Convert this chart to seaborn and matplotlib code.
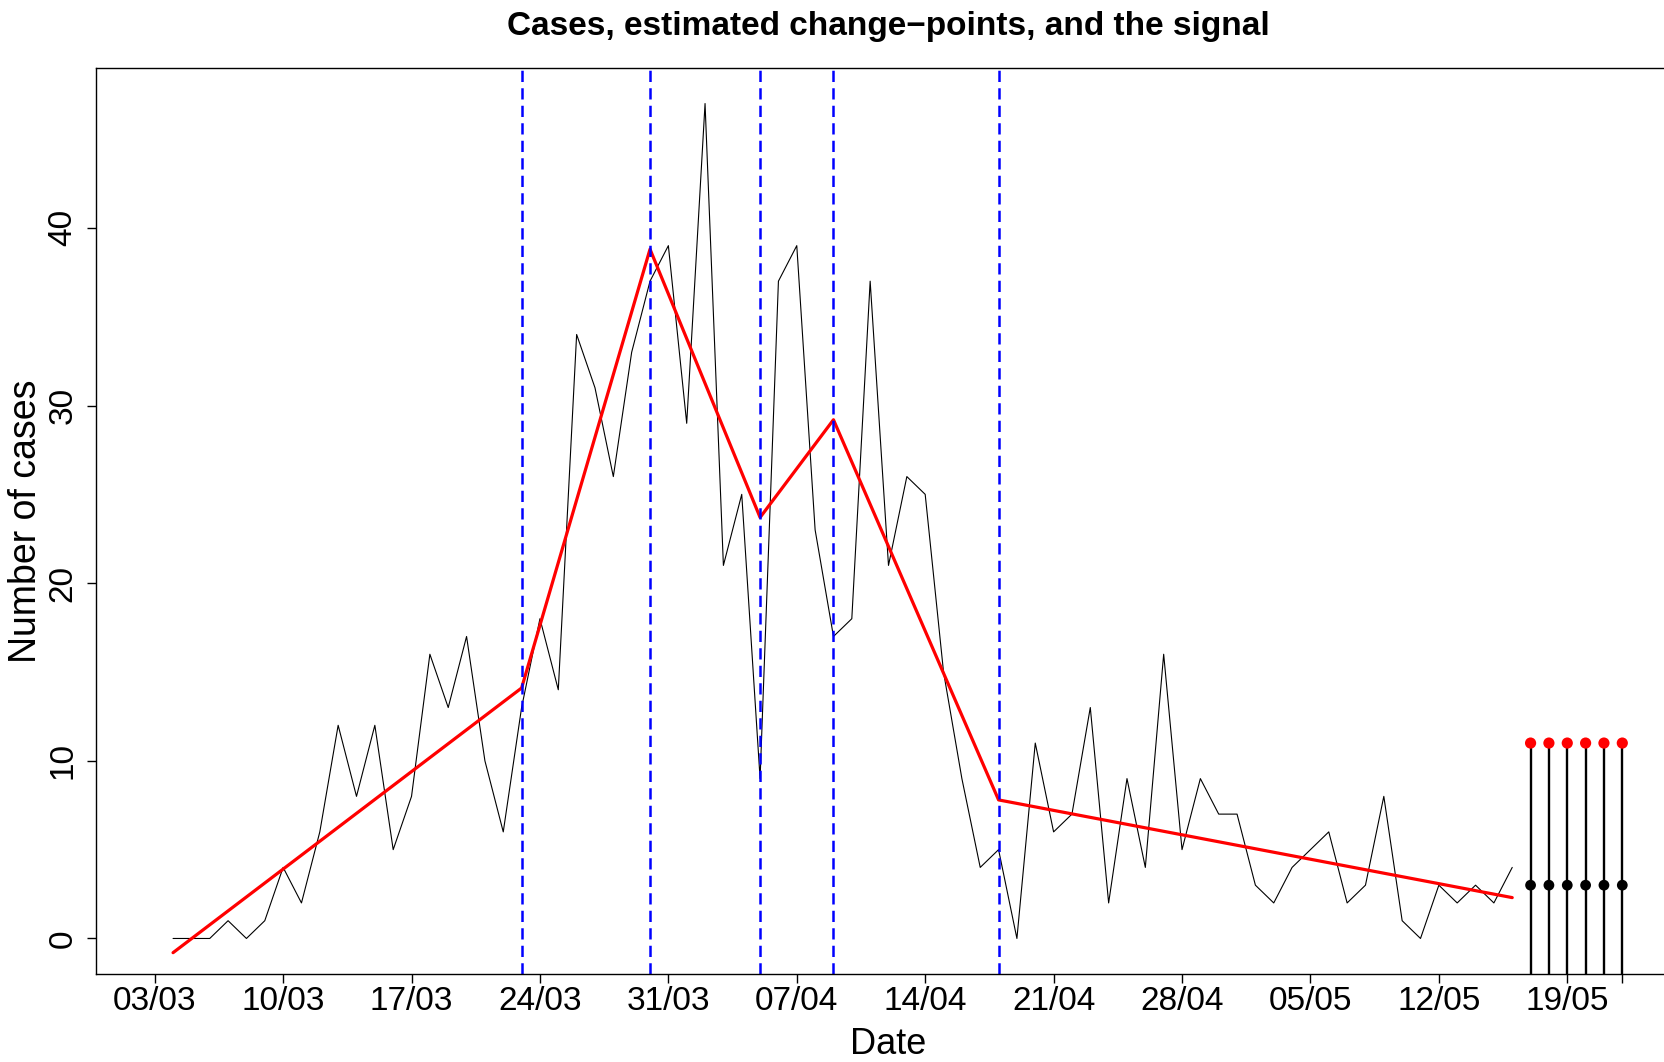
import pandas as pd
import seaborn as sns
import matplotlib
matplotlib.use('Agg')
import matplotlib.pyplot as plt

# daily cases from 04/03 to 16/05
start_date = '2020-03-04'
cases = [0, 0, 0, 1, 0, 1, 4, 2, 6, 12,
         8, 12, 5, 8, 16, 13, 17, 10, 6, 13,
         18, 14, 34, 31, 26, 33, 37, 39, 29, 47,
         21, 25, 9, 37, 39, 23, 17, 18, 37, 21,
         26, 25, 15, 9, 4, 5, 0, 11, 6, 7,
         13, 2, 9, 4, 16, 5, 9, 7, 7, 3,
         2, 4, 5, 6, 2, 3, 8, 1, 0, 3,
         2, 3, 2, 4]

# change-points (day index) and the fitted signal at the knots
cp_index = [19, 26, 32, 36, 45]
fit_index = [0, 19, 26, 32, 36, 45, 73]
fit_value = [-0.8, 14.1, 38.8, 23.7, 29.2, 7.8, 2.3]

# predictions
pred_dates = ['2020-05-17', '2020-05-18', '2020-05-19', '2020-05-20', '2020-05-21', '2020-05-22']
pred_point = [3, 3, 3, 3, 3, 3]
pred_upper = [11, 11, 11, 11, 11, 11]
pred_lower = [-5, -5, -5, -5, -5, -5]

tick_dates = ['2020-03-03', '2020-03-10', '2020-03-17', '2020-03-24', '2020-03-31', '2020-04-07',
              '2020-04-14', '2020-04-21', '2020-04-28', '2020-05-05', '2020-05-12', '2020-05-19',
              '2020-05-22']
tick_labels = ['03/03', '10/03', '17/03', '24/03', '31/03', '07/04', '14/04', '21/04', '28/04',
               '05/05', '12/05', '19/05', '']

sns.set_style('ticks')
plt.rcParams['font.family'] = ['Liberation Sans', 'DejaVu Sans']
plt.rcParams['text.color'] = 'black'
plt.rcParams['axes.labelcolor'] = 'black'
plt.rcParams['xtick.color'] = 'black'
plt.rcParams['ytick.color'] = 'black'

dates = pd.date_range(start_date, periods=len(cases))
df = pd.DataFrame({'date': dates, 'cases': cases})
fit_df = pd.DataFrame({'date': dates[fit_index], 'value': fit_value})
pred_df = pd.DataFrame({'date': pd.to_datetime(pred_dates), 'point': pred_point,
                        'upper': pred_upper, 'lower': pred_lower})

W, H = 1664, 1062
fig = plt.figure(figsize=(W / 100, H / 100), dpi=100)
ax = fig.add_axes([96 / W, 1 - 974 / H, (1681 - 96) / W, (974 - 68) / H])

sns.lineplot(data=df, x='date', y='cases', color='black', lw=0.8, ax=ax)
sns.lineplot(data=fit_df, x='date', y='value', color='red', lw=2.3, ax=ax)
for i in cp_index:
    ax.axvline(dates[i], color='blue', lw=1.8, dashes=(4.5, 2.5))

ax.vlines(pred_df['date'], pred_df['lower'], pred_df['upper'], color='black', lw=1.7)
sns.scatterplot(data=pred_df, x='date', y='point', color='black', s=60, edgecolor='none', ax=ax, zorder=5)
sns.scatterplot(data=pred_df, x='date', y='upper', color='red', s=65, edgecolor='none', ax=ax, zorder=5)

t0 = pd.Timestamp(start_date)
ax.set_xlim(t0 - pd.Timedelta(days=4.2), t0 + pd.Timedelta(days=82.2))
ax.set_ylim(-2.0, 49.0)

ax.set_xticks(pd.to_datetime(tick_dates))
ax.set_xticklabels(tick_labels, fontsize=24)
ax.set_yticks([0, 10, 20, 30, 40])
ax.set_yticklabels(['0', '10', '20', '30', '40'], fontsize=24, rotation=90, va='center')
ax.tick_params(axis='both', direction='out', length=6.7, width=1, color='black')
ax.tick_params(axis='x', pad=2)
ax.tick_params(axis='y', pad=6)

ax.set_xlabel('Date', fontsize=26)
ax.xaxis.set_label_coords(0.5, -0.058)
ax.set_ylabel('Number of cases', fontsize=27)
ax.yaxis.set_label_coords(-0.033, 0.5)

for sp in ax.spines.values():
    sp.set_visible(True)
    sp.set_color('black')
    sp.set_linewidth(1.0)

fig.text(888 / W, 1 - 27 / H, 'Cases, estimated change\u2212points, and the signal',
         ha='center', va='center', fontsize=24, fontweight='bold')

fig.savefig('out.png', dpi=100)
